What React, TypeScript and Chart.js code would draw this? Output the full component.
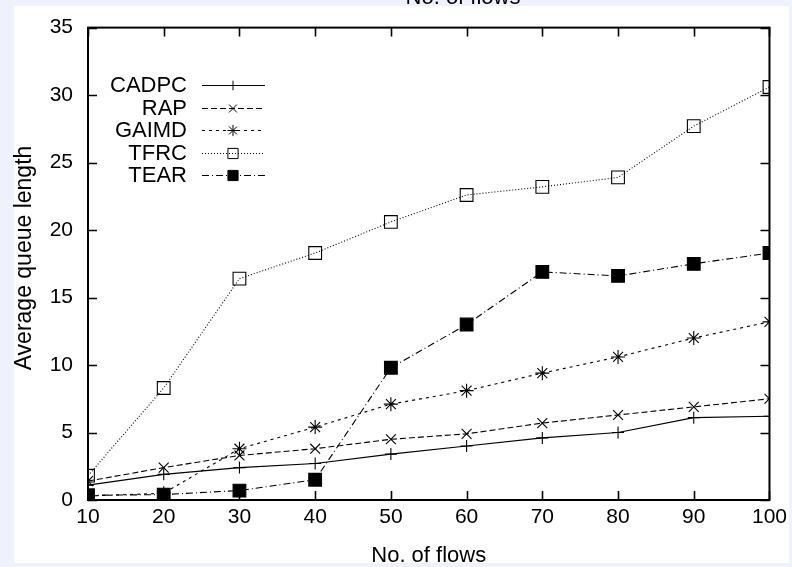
import React, { useEffect, useRef } from "react";
import { Chart, registerables } from "chart.js";
import { drawPoint } from "chart.js/helpers";

Chart.register(...registerables);

const flows = [10, 20, 30, 40, 50, 60, 70, 80, 90, 100];
const cadpc = [1.1, 1.9, 2.4, 2.7, 3.4, 4.0, 4.6, 5.0, 6.1, 6.2];
const rap = [1.4, 2.4, 3.3, 3.8, 4.5, 4.9, 5.7, 6.3, 6.9, 7.5];
const gaimd = [0.3, 0.5, 3.8, 5.4, 7.1, 8.1, 9.4, 10.6, 12.0, 13.2];
const tfrc = [1.8, 8.3, 16.4, 18.3, 20.6, 22.6, 23.2, 23.9, 27.7, 30.6];
const tear = [0.35, 0.4, 0.7, 1.5, 9.8, 13.0, 16.9, 16.6, 17.5, 18.3];
const xTicks = [10, 20, 30, 40, 50, 60, 70, 80, 90, 100];
const yTicks = [0, 5, 10, 15, 20, 25, 30, 35];

const seriesNames = ["CADPC", "RAP", "GAIMD", "TFRC", "TEAR"];
const seriesValues = [cadpc, rap, gaimd, tfrc, tear];
const pointStyles = ["cross", "crossRot", "star", "rect", "rect"];
const pointRadii = [6, 7, 7, 9, 9];
const dashes: number[][] = [[], [6, 3], [3, 4], [1, 2], [7, 3, 1, 3]];
const fills = ["#000", "#000", "#000", "rgba(255,255,255,0)", "#000"];

const FONT = "'Liberation Sans', Arial, Helvetica, sans-serif";

const framePlugin = {
  id: "framePlugin",
  afterDraw(chart: any) {
    const { ctx, chartArea } = chart;
    const { left, right, top, bottom } = chartArea;
    const xs = chart.scales.x;
    const ys = chart.scales.y;
    ctx.save();
    ctx.strokeStyle = "#000";
    ctx.lineWidth = 2;
    ctx.setLineDash([]);
    ctx.strokeRect(left, top, right - left, bottom - top);
    ctx.lineWidth = 1.6;
    const tl = 9;
    ctx.beginPath();
    xTicks.forEach((v) => {
      const px = Math.round(xs.getPixelForValue(v)) + 0.5;
      ctx.moveTo(px, bottom);
      ctx.lineTo(px, bottom - tl);
      ctx.moveTo(px, top);
      ctx.lineTo(px, top + tl);
    });
    yTicks.forEach((v) => {
      const py = Math.round(ys.getPixelForValue(v)) + 0.5;
      ctx.moveTo(left, py);
      ctx.lineTo(left + tl, py);
      ctx.moveTo(right, py);
      ctx.lineTo(right - tl, py);
    });
    ctx.stroke();

    // legend
    ctx.font = "22px " + FONT;
    ctx.fillStyle = "#000";
    ctx.textAlign = "right";
    ctx.textBaseline = "middle";
    chart.data.datasets.forEach((ds: any, i: number) => {
      const y = 85 + i * 22.5;
      ctx.fillText(ds.label, 187, y + 1);
      ctx.save();
      ctx.lineWidth = 1;
      ctx.strokeStyle = "#000";
      ctx.setLineDash(ds.borderDash || []);
      ctx.beginPath();
      ctx.moveTo(202, Math.round(y) + 0.5);
      ctx.lineTo(265, Math.round(y) + 0.5);
      ctx.stroke();
      ctx.setLineDash([]);
      ctx.fillStyle = ds.pointBackgroundColor;
      ctx.strokeStyle = "#000";
      ctx.lineWidth = 1;
      drawPoint(ctx, { pointStyle: ds.pointStyle, radius: ds.pointRadius * 0.8, rotation: 0, borderWidth: 1 } as any, 233, Math.round(y) + 0.5);
      ctx.restore();
    });

    // titles
    ctx.textAlign = "center";
    ctx.textBaseline = "alphabetic";
    ctx.font = "22px " + FONT;
    ctx.save();
    ctx.beginPath();
    ctx.rect(0, 0, 792, 563);
    ctx.clip();
    ctx.fillText("No. of flows", (left + right) / 2, 562);
    ctx.restore();
    ctx.fillText("No. of flows", 463, 4);
    ctx.save();
    ctx.font = "23px " + FONT;
    ctx.translate(31, 258);
    ctx.rotate(-Math.PI / 2);
    ctx.fillText("Average queue length", 0, 0);
    ctx.restore();
    ctx.restore();
  },
};

export default function App() {
  const ref = useRef<HTMLCanvasElement>(null);
  useEffect(() => {
    const datasets = seriesNames.map((name, i) => ({
      label: name,
      data: flows.map((f, j) => ({ x: f, y: seriesValues[i][j] })),
      borderColor: "#000",
      borderWidth: 1.1,
      borderDash: dashes[i],
      pointStyle: pointStyles[i],
      pointRadius: pointRadii[i],
      pointBorderColor: "#000",
      pointBorderWidth: 1.1,
      pointBackgroundColor: fills[i],
      fill: false,
      tension: 0,
    }));
    const chart = new Chart(ref.current as HTMLCanvasElement, {
      type: "line",
      data: { datasets } as any,
      options: {
        animation: false,
        responsive: false,
        maintainAspectRatio: false,
        layout: { padding: { top: 15, right: 21, left: 0, bottom: 0 } },
        plugins: { legend: { display: false }, tooltip: { enabled: false }, title: { display: false } },
        scales: {
          x: {
            type: "linear",
            min: 10,
            max: 100,
            afterFit: (s: any) => { s.height = 67; },
            afterBuildTicks: (s: any) => { s.ticks = xTicks.map((v) => ({ value: v })); },
            grid: { display: false, drawTicks: false },
            border: { display: false },
            ticks: { color: "#000", font: { family: FONT, size: 21 }, padding: 5, maxRotation: 0, autoSkip: false },
          },
          y: {
            type: "linear",
            min: 0,
            max: 35,
            afterFit: (s: any) => { s.width = 88; },
            afterBuildTicks: (s: any) => { s.ticks = yTicks.map((v) => ({ value: v })); },
            grid: { display: false, drawTicks: false },
            border: { display: false },
            ticks: { color: "#000", font: { family: FONT, size: 21 }, padding: 15 },
          },
        },
      },
      plugins: [framePlugin],
    } as any);
    return () => chart.destroy();
  }, []);
  return (
    <div style={{ position: "fixed", left: 0, top: 0, width: 792, height: 567, background: "#eff2fd", overflow: "hidden" }}>
      <div style={{ position: "absolute", left: 14, top: 6, width: 775, height: 557, background: "#fff" }} />
      <canvas ref={ref} width={792} height={567} style={{ position: "absolute", left: 0, top: 0, width: 792, height: 567 }} />
    </div>
  );
}
